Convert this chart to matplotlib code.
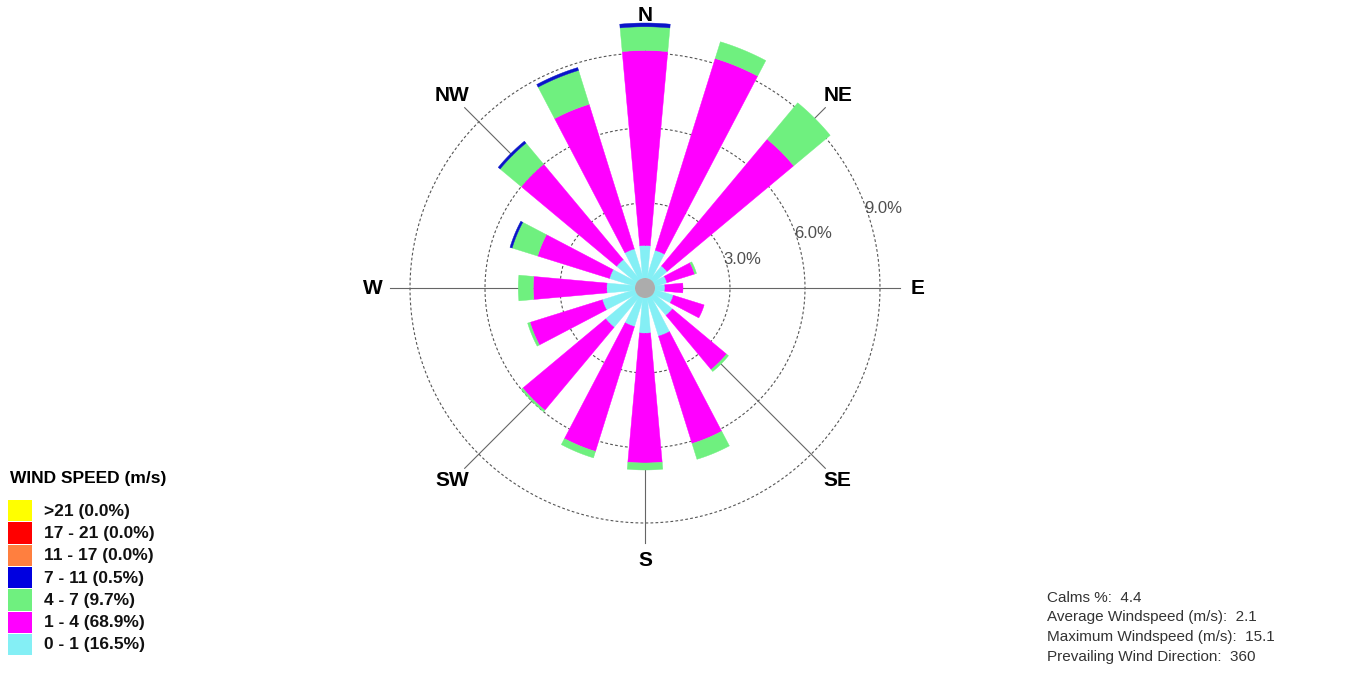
"""
Wind rose (16 sectors, % frequency by speed class) with WRPLOT-style legend.
  python plot.py  -> out.png
"""
import numpy as np
import matplotlib
matplotlib.use("Agg")
import matplotlib.pyplot as plt
from matplotlib.patches import Rectangle

plt.rcParams["font.family"] = ["Liberation Sans", "DejaVu Sans"]

# ---------------------------------------------------------------- data (% of hours)
DIRS = ["N", "NNE", "NE", "ENE", "E", "ESE", "SE", "SSE",
        "S", "SSW", "SW", "WSW", "W", "WNW", "NW", "NNW"]
s0_1 = [1.30, 1.16, 0.70, 0.50, 0.40, 0.77, 0.98, 1.60, 1.41, 1.20, 1.60, 1.37, 1.13, 1.07, 1.03, 1.22]
s1_4 = [7.80, 8.04, 6.60, 1.16, 0.72, 1.29, 2.82, 4.50, 5.19, 5.23, 4.32, 3.03, 2.94, 3.01, 4.97, 6.06]
s4_7 = [0.95, 0.70, 1.90, 0.08, 0.00, 0.00, 0.10, 0.66, 0.28, 0.27, 0.08, 0.10, 0.60, 1.07, 1.10, 1.42]
s7_11 = [0.15, 0.0, 0.0, 0.0, 0.0, 0.0, 0.0, 0.0, 0.0, 0.0, 0.0, 0.0, 0.0, 0.09, 0.10, 0.12]
s11_17 = [0.0] * 16
s17_21 = [0.0] * 16
s21 = [0.0] * 16

CLASSES = [s0_1, s1_4, s4_7, s7_11, s11_17, s17_21, s21]
COLORS = ["#84eff5", "#ff00ff", "#6ff07f", "#0a14c8", "#ff8040", "#ff0000", "#ffff00"]
LEG_LABELS = [">21 (0.0%)", "17 - 21 (0.0%)", "11 - 17 (0.0%)", "7 - 11 (0.5%)",
              "4 - 7 (9.7%)", "1 - 4 (68.9%)", "0 - 1 (16.5%)"]
LEG_COLORS = ["#ffff00", "#ff0000", "#ff7f3f", "#0000e0", "#6ff07f", "#ff00ff", "#84eff5"]
RINGS = [3, 6, 9]
COMPASS = ["N", "NE", "E", "SE", "S", "SW", "W", "NW"]
STATS = ["Calms %:  4.4",
         "Average Windspeed (m/s):  2.1",
         "Maximum Windspeed (m/s):  15.1",
         "Prevailing Wind Direction:  360"]

W, H = 1355, 675
fig = plt.figure(figsize=(W / 100, H / 100), dpi=100)

# background axes in pixel coords for legend + stats
bg = fig.add_axes([0, 0, 1, 1])
bg.set_xlim(0, W); bg.set_ylim(H, 0); bg.axis("off")

# ---------------------------------------------------------------- polar rose
cx, cy, R = 645, 288, 270
RMIN, RMAX = -0.4, 10.4
PX = R / (RMAX - RMIN)          # pixels per percent
ax = fig.add_axes([(cx - R) / W, (H - cy - R) / H, 2 * R / W, 2 * R / H], projection="polar")
ax.set_theta_zero_location("N"); ax.set_theta_direction(-1)
ax.set_ylim(RMIN, RMAX)
ax.set_xticks([]); ax.set_yticks([]); ax.grid(False)
ax.spines["polar"].set_visible(False)
ax.patch.set_alpha(0)


def sector(th, r0, r1, color):
    # wedge whose width grows linearly with radius plus a small constant (WRPLOT look)
    rr = np.linspace(r0, r1, 30)
    rho = (rr - RMIN) * PX
    half = np.arctan((0.09 * rho + 1.5) / rho)
    t_out = np.linspace(th - half[-1], th + half[-1], 20)
    t_in = np.linspace(th + half[0], th - half[0], 20)
    T = np.concatenate([th - half, t_out, (th + half)[::-1], t_in])
    Rr = np.concatenate([rr, np.full(20, r1), rr[::-1], np.full(20, r0)])
    ax.fill(T, Rr, color=color, ec=color, lw=0.3, zorder=3)


theta = np.deg2rad(np.arange(16) * 22.5)
tt = np.linspace(0, 2 * np.pi, 400)
for r in RINGS:
    ax.plot(tt, [r] * len(tt), color="#555555", lw=0.8, ls=(0, (2.5, 2)), zorder=1)
    ax.text(np.deg2rad(70), r - 0.06, f"{r:.1f}%", color="#505050", fontsize=12,
            ha="left", va="center", zorder=1)
for k, name in enumerate(COMPASS):
    a = np.deg2rad(k * 45)
    ax.plot([a, a], [0, 9.8], color="#666666", lw=0.8, zorder=1)
    ax.text(a, 10.5, name, fontsize=15, fontweight="bold", ha="center", va="center",
            clip_on=False, zorder=1)

bottom = np.zeros(16)
for vals, col in zip(CLASSES, COLORS):
    for i, v in enumerate(vals):
        if v > 0:
            sector(theta[i], bottom[i], bottom[i] + v, col)
    bottom += np.array(vals)

# calm circle
ax.fill(tt, np.zeros_like(tt), color="#acacac", lw=0, zorder=4)

# ---------------------------------------------------------------- legend
bg.text(10, 478, "WIND SPEED (m/s)", fontsize=12.5, fontweight="bold", ha="left", va="center")
y0, dy = 500, 22.3
for i, (lab, col) in enumerate(zip(LEG_LABELS, LEG_COLORS)):
    bg.add_patch(Rectangle((8, y0 + i * dy), 24, dy - 1, color=col, lw=0))
    bg.text(44, y0 + i * dy + dy / 2, lab, fontsize=12.5, fontweight="bold",
            ha="left", va="center", color="#111111")

# ---------------------------------------------------------------- stats
for i, line in enumerate(STATS):
    bg.text(1047, 598 + i * 19.5, line, fontsize=11, ha="left", va="center", color="#333333")

fig.savefig("out.png", dpi=100)
